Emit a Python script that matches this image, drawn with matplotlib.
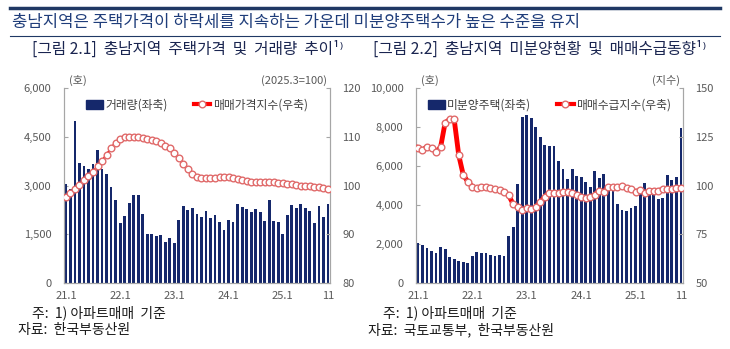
import matplotlib
matplotlib.use('Agg')
import matplotlib.pyplot as plt
import numpy as np
from matplotlib.lines import Line2D

plt.rcParams['font.family'] = ['Noto Sans CJK KR', 'DejaVu Sans']

# months 21.1 ~ 25.11
tick_pos = [0, 12, 24, 36, 48, 58]
tick_labels = ['21.1', '22.1', '23.1', '24.1', '25.1', '11']

# left chart: 거래량 (호), 매매가격지수 (2025.3=100)
volume = [3050, 2900, 5000, 3700, 3600, 3500, 3650, 4100, 3500, 3340, 2950, 2550,
          1850, 2050, 2450, 2700, 2720, 2110, 1500, 1510, 1450, 1470, 1260, 1380,
          1220, 1930, 2360, 2260, 2310, 2110, 2030, 2210, 2010, 2080, 1890, 1620,
          1950, 1880, 2440, 2340, 2270, 2180, 2280, 2170, 1910, 2540, 1910, 1870,
          1520, 2100, 2390, 2320, 2440, 2300, 2210, 1860, 2360, 2030, 2420]
price_idx = [97.6, 98.4, 99.3, 100.2, 101.1, 101.9, 102.8, 103.9, 105.0, 106.3, 107.6, 108.8,
             109.6, 109.9, 110.0, 110.0, 109.9, 109.8, 109.6, 109.4, 109.1, 108.7, 108.2, 107.6,
             106.7, 105.6, 104.5, 103.3, 102.4, 101.8, 101.6, 101.5, 101.5, 101.6, 101.7, 101.8,
             101.8, 101.6, 101.4, 101.1, 100.9, 100.8, 100.7, 100.7, 100.7, 100.7, 100.7, 100.6,
             100.5, 100.4, 100.3, 100.2, 100.0, 99.9, 99.8, 99.7, 99.6, 99.4, 99.2]

# right chart: 미분양주택 (호), 매매수급지수
unsold = [2050, 1930, 1780, 1660, 1520, 1860, 1740, 1350, 1230, 1130, 1090, 1025,
          1400, 1590, 1555, 1520, 1420, 1370, 1435, 1400, 2430, 2870, 5075, 8500,
          8600, 8450, 8000, 7500, 7100, 7050, 7050, 6250, 5830, 5330, 5830, 5490,
          5420, 5200, 4940, 5740, 5370, 5570, 4850, 4700, 4030, 3740, 3690, 3830,
          3950, 4900, 5110, 4680, 4680, 4300, 4340, 5520, 5280, 5420, 7930]
supply_idx = [119.4, 118.2, 119.9, 119.1, 117.4, 119.6, 132.2, 133.9, 133.9, 115.6, 105.4, 102.0,
              99.4, 98.5, 99.4, 99.4, 98.5, 98.2, 97.7, 96.8, 95.0, 90.5, 88.8, 87.5,
              88.6, 87.8, 88.8, 91.5, 94.3, 96.3, 96.3, 96.3, 96.7, 96.7, 96.3, 95.1,
              94.3, 93.8, 93.9, 95.1, 97.4, 96.8, 99.1, 99.1, 99.1, 99.7, 98.9, 98.2,
              96.8, 97.7, 96.3, 97.4, 97.4, 97.4, 98.0, 98.0, 98.0, 98.9, 98.5]

navy = '#15286b'
red = '#ff0000'
mk_edge = '#e06a6a'
gray = '#595959'
spine_c = '#a6a6a6'

fig = plt.figure(figsize=(7.3, 3.49), dpi=100)

# header lines and titles
fig.add_artist(Line2D([10/730, 720/730], [1 - 8/349, 1 - 8/349], color='#1f3864', lw=2.5))
fig.add_artist(Line2D([10/730, 720/730], [1 - 36/349, 1 - 36/349], color='#1f3864', lw=0.8))
fig.text(12/730, 1 - 22/349, '충남지역은 주택가격이 하락세를 지속하는 가운데 미분양주택수가 높은 수준을 유지',
         fontsize=12, color='#1f3d7a', va='center', ha='left')
fig.text(32/730, 1 - 49/349, '[그림 2.1]  충남지역  주택가격  및  거래량  추이¹⁾',
         fontsize=11.3, color='#1a2550', va='center', ha='left')
fig.text(373/730, 1 - 49/349, '[그림 2.2]  충남지역  미분양현황  및  매매수급동향¹⁾',
         fontsize=11.3, color='#1a2550', va='center', ha='left')


def make_panel(rect, bars, line, ylim_l, yticks_l, ylim_r, yticks_r, lw, bar_lab, line_lab,
               unit_l, unit_r):
    ax = fig.add_axes(rect)
    x = np.arange(len(bars))
    ax.bar(x, bars, width=0.62, color=navy, zorder=2)
    ax.set_xlim(-0.42, len(bars) - 0.55)
    ax.set_ylim(*ylim_l)
    ax.set_yticks(yticks_l)
    ax.set_yticklabels([f'{v:,}' for v in yticks_l])
    ax.set_xticks(tick_pos)
    ax.set_xticklabels(tick_labels)
    ax.tick_params(axis='x', length=0, pad=6, labelsize=8, labelcolor=gray)
    ax.tick_params(axis='y', direction='in', length=3, color=spine_c, labelsize=8,
                   labelcolor=gray, pad=9)
    ax.spines['top'].set_visible(False)
    for s in ['left', 'right', 'bottom']:
        ax.spines[s].set_color(spine_c)

    ax2 = ax.twinx()
    ax2.plot(x, line, color=red, lw=lw, marker='o', markersize=4.8,
             markerfacecolor='white', markeredgecolor=mk_edge, markeredgewidth=1.0, zorder=3)
    ax2.set_ylim(*ylim_r)
    ax2.set_yticks(yticks_r)
    ax2.tick_params(axis='y', direction='in', length=3, color=spine_c, labelsize=8,
                    labelcolor=gray, pad=9)
    ax2.spines['top'].set_visible(False)
    for s in ['left', 'right', 'bottom']:
        ax2.spines[s].set_color(spine_c)

    h1 = plt.Rectangle((0, 0), 1, 1, color=navy)
    h2 = Line2D([], [], color=red, lw=3, marker='o', markersize=4.8,
                markerfacecolor='white', markeredgecolor=mk_edge)
    ax2.legend([h1, h2], [bar_lab, line_lab], ncol=2, loc='upper center',
               bbox_to_anchor=(0.5, 1.0), frameon=False, fontsize=8.5,
               handlelength=1.4, handletextpad=0.2, columnspacing=2.2,
               labelcolor='#404040')

    ax.text(0.02, 1.01, unit_l, transform=ax.transAxes, fontsize=8, color=gray,
            ha='left', va='bottom')
    ax.text(0.99, 1.01, unit_r, transform=ax.transAxes, fontsize=8, color=gray,
            ha='right', va='bottom')
    return ax, ax2


make_panel([64/730, 66/349, 266/730, 195/349], volume, price_idx,
           (0, 6000), [0, 1500, 3000, 4500, 6000], (80, 120), [80, 90, 100, 110, 120],
           1.8, '거래량(좌축)', '매매가격지수(우축)', '(호)', '(2025.3=100)')
make_panel([416/730, 66/349, 267/730, 195/349], unsold, supply_idx,
           (0, 10000), [0, 2000, 4000, 6000, 8000, 10000], (50, 150), [50, 75, 100, 125, 150],
           3.5, '미분양주택(좌축)', '매매수급지수(우축)', '(호)', '(지수)')

# footnotes
fig.text(32/730, 1 - 313/349, '주:  1) 아파트매매  기준', fontsize=10, color='#1a1a1a', va='center')
fig.text(18/730, 1 - 330/349, '자료:  한국부동산원', fontsize=10, color='#1a1a1a', va='center')
fig.text(383/730, 1 - 313/349, '주:  1) 아파트매매  기준', fontsize=10, color='#1a1a1a', va='center')
fig.text(368/730, 1 - 330/349, '자료:  국토교통부,  한국부동산원', fontsize=10, color='#1a1a1a', va='center')

fig.savefig('out.png', dpi=100)
